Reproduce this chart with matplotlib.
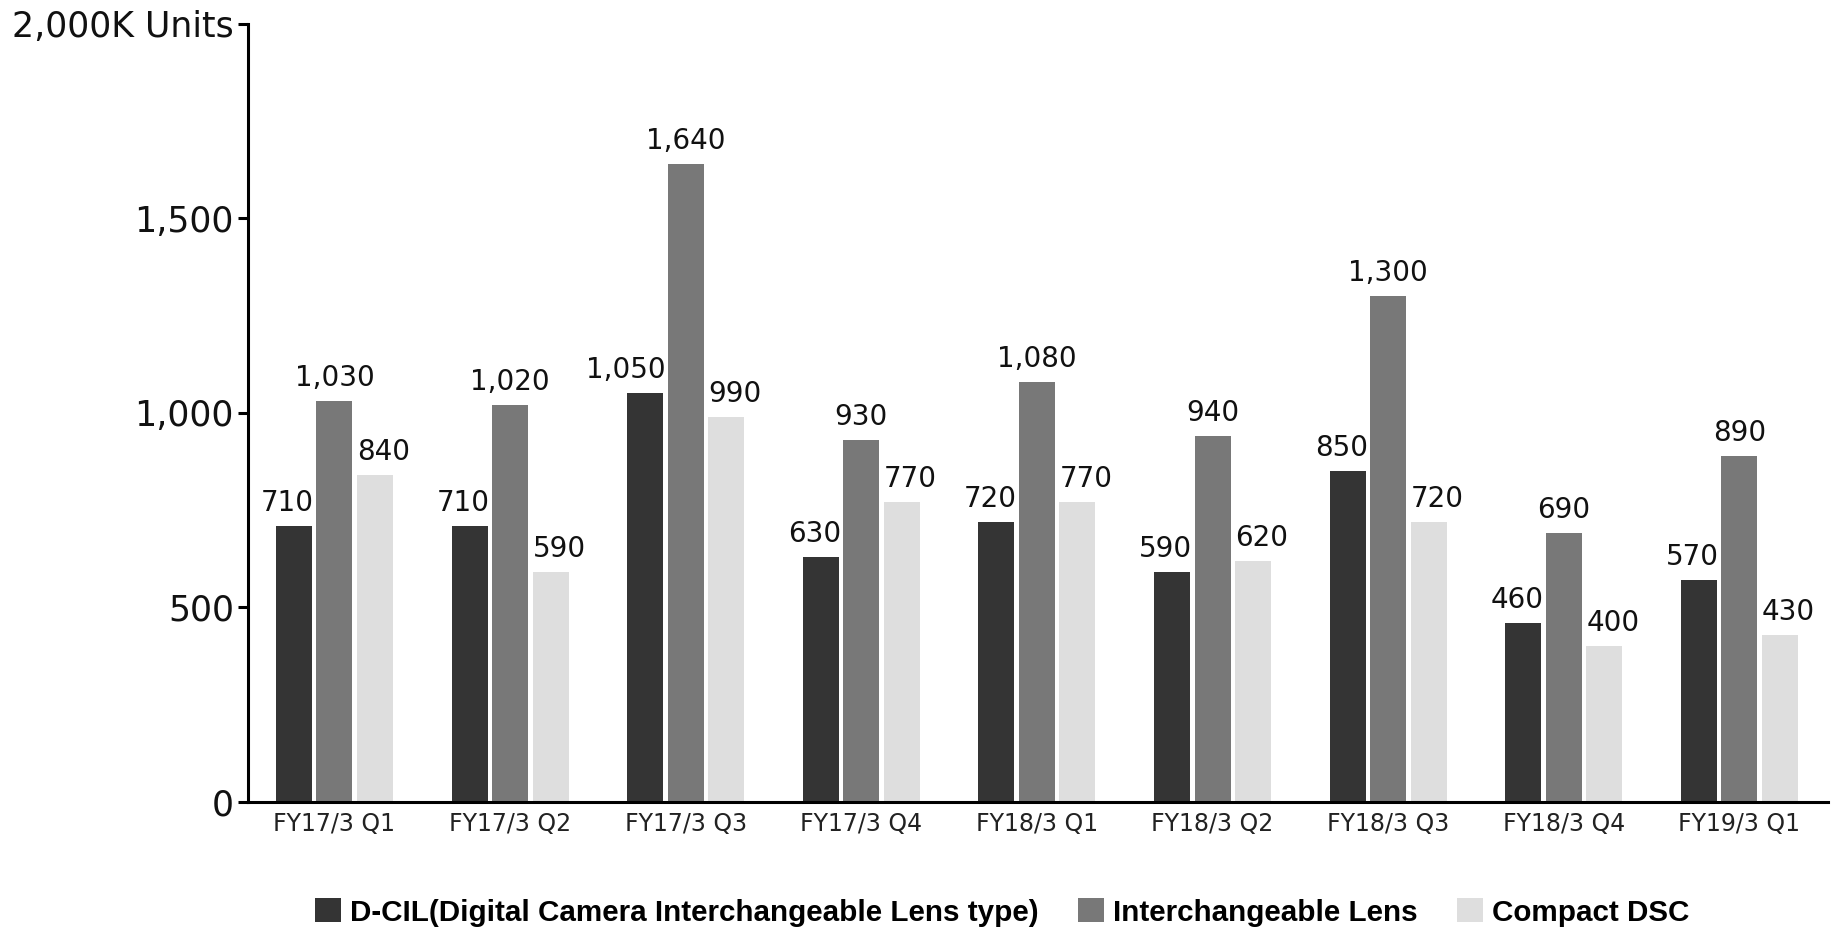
import numpy as np
import matplotlib
matplotlib.use('Agg')
import matplotlib.pyplot as plt
from matplotlib.patches import Patch

# data
quarters = ['FY17/3 Q1', 'FY17/3 Q2', 'FY17/3 Q3', 'FY17/3 Q4', 'FY18/3 Q1',
            'FY18/3 Q2', 'FY18/3 Q3', 'FY18/3 Q4', 'FY19/3 Q1']
dcil = [710, 710, 1050, 630, 720, 590, 850, 460, 570]
lens = [1030, 1020, 1640, 930, 1080, 940, 1300, 690, 890]
compact = [840, 590, 990, 770, 770, 620, 720, 400, 430]
series_names = ['D-CIL(Digital Camera Interchangeable Lens type)',
                'Interchangeable Lens', 'Compact DSC']
yticks = [0, 500, 1000, 1500, 2000]
ytick_labels = ['0', '500', '1,000', '1,500', '2,000K Units']

colors = ['#343434', '#787878', '#dedede']

plt.rcParams['font.family'] = ['DejaVu Sans']

fig = plt.figure(figsize=(18.37, 9.30), dpi=100)
ax = fig.add_axes([0.135, 0.1376, 0.8601, 0.8371])

x = np.arange(len(quarters))
step = 0.2305
w = 0.205
series = [dcil, lens, compact]
for i, (vals, c) in enumerate(zip(series, colors)):
    bars = ax.bar(x + (i - 1) * step, vals, width=w, color=c)
    for b, v in zip(bars, vals):
        if i == 0:
            xa, ha, dx = b.get_x() + b.get_width(), 'right', 2
        elif i == 2:
            xa, ha, dx = b.get_x(), 'left', 0
        else:
            xa, ha, dx = b.get_x() + b.get_width() / 2, 'center', 0
        ax.annotate(f'{v:,}', (xa, v), xytext=(dx, 15), textcoords='offset pixels',
                    ha=ha, va='baseline', fontsize=20, color='#111111')

ax.set_xlim(-0.492, 8.504)
ax.set_ylim(0, 2000)
ax.set_xticks(x)
ax.set_xticklabels(quarters, fontsize=17, color='#222222')
ax.set_yticks(yticks)
ax.set_yticklabels(ytick_labels, fontsize=25, color='#111111')
ax.tick_params(axis='x', length=0, pad=7)
ax.tick_params(axis='y', length=7.2, width=2.2, pad=3)

for s in ['top', 'right']:
    ax.spines[s].set_visible(False)
for s in ['left', 'bottom']:
    ax.spines[s].set_linewidth(2.2)

handles = [Patch(facecolor=c, edgecolor='none') for c in colors]
fig.legend(handles, series_names, loc='center', bbox_to_anchor=(0.5455, 0.0188),
           ncol=3, frameon=False, handlelength=0.87, handleheight=0.87,
           handletextpad=0.3, columnspacing=1.35, borderpad=0, borderaxespad=0,
           prop={'family': 'Liberation Sans', 'weight': 'bold', 'size': 21.3})

fig.savefig('out.png', dpi=100)
